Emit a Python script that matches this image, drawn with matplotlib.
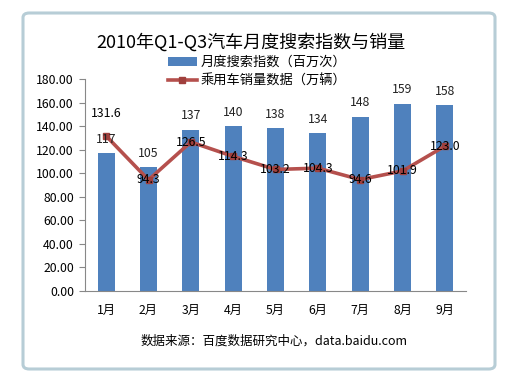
import matplotlib.pyplot as plt
from matplotlib.patches import FancyBboxPatch

plt.rcParams['font.family'] = ['Noto Sans CJK SC', 'DejaVu Sans']

# data
months = ['1月', '2月', '3月', '4月', '5月', '6月', '7月', '8月', '9月']
search_index = [117, 105, 137, 140, 138, 134, 148, 159, 158]
car_sales = [131.6, 94.3, 126.5, 114.3, 103.2, 104.3, 94.6, 101.9, 123.0]
sales_labels = ['131.6', '94.3', '126.5', '114.3', '103.2', '104.3', '94.6', '101.9', '123.0']

fig = plt.figure(figsize=(5.28, 3.83), dpi=100)
ax = fig.add_axes([85 / 528, 1 - 291 / 383, 381 / 528, 212 / 383])

# outer chart frame
frame = FancyBboxPatch((23 / 528, 14 / 383), 472 / 528, 356 / 383,
                       boxstyle='round,pad=0,rounding_size=0.012',
                       transform=fig.transFigure, facecolor='none',
                       edgecolor='#B7CDD6', linewidth=2.2, zorder=5)
fig.patches.append(frame)

x = range(len(months))
bars = ax.bar(x, search_index, width=0.4, color='#4F81BD', zorder=2,
              label='月度搜索指数（百万次）')
line, = ax.plot(x, car_sales, color='#B5504D', linewidth=2.6, marker='s',
                markersize=4, markerfacecolor='#A0403D', markeredgecolor='#A0403D',
                zorder=3, label='乘用车销量数据（万辆）')

for i, v in enumerate(search_index):
    ax.annotate(str(v), (i, v), xytext=(0, 10), textcoords='offset points',
                ha='center', va='center', fontsize=8.8, color='#222222', zorder=4)

for i, v in enumerate(car_sales):
    dy = 16 if i == 0 else 0
    ax.annotate(sales_labels[i], (i, v), xytext=(0, dy), textcoords='offset points',
                ha='center', va='center', fontsize=8.8, color='black', zorder=4)

ax.set_xlim(-0.5, len(months) - 0.5)
ax.set_ylim(0, 180)
ax.set_yticks(range(0, 181, 20))
ax.set_yticklabels(['%.2f' % t for t in range(0, 181, 20)], fontsize=8.8)
ax.set_xticks(list(x))
ax.set_xticklabels(months, fontsize=8.8)
ax.tick_params(axis='x', length=0, pad=9)
ax.tick_params(axis='y', length=4, color='#888888', pad=4, direction='out')

for s in ['top', 'right']:
    ax.spines[s].set_visible(False)
for s in ['left', 'bottom']:
    ax.spines[s].set_color('#888888')
ax.set_facecolor('none')

fig.text(251 / 528, 1 - 42 / 383, '2010年Q1-Q3汽车月度搜索指数与销量',
         ha='center', va='center', fontsize=13)

ax.legend(handles=[bars, line], loc='center', bbox_to_anchor=(257 / 528, 1 - 72 / 383),
          bbox_transform=fig.transFigure, frameon=False, fontsize=9.5,
          handlelength=2.2, handletextpad=0.3, labelspacing=0.45)

fig.text(274 / 528, 1 - 341 / 383, '数据来源：百度数据研究中心，data.baidu.com',
         ha='center', va='center', fontsize=9)

fig.savefig('out.png', dpi=100)
